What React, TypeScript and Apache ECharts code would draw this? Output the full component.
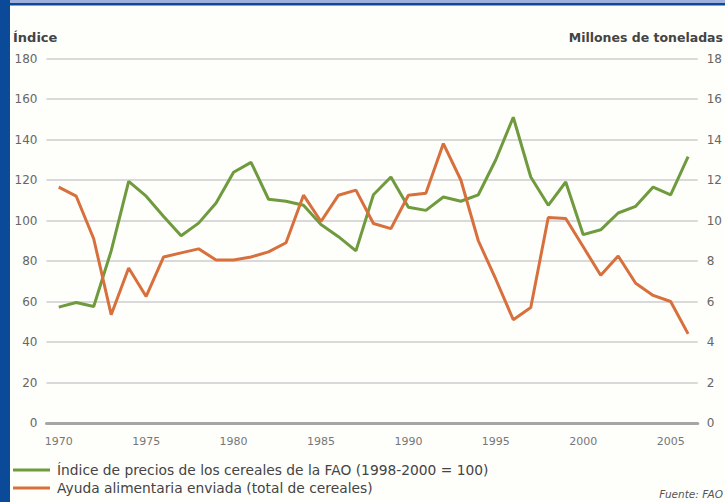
import React, { useEffect, useRef } from "react";
import * as echarts from "echarts";

const years: number[] = [];
for (let y = 1970; y <= 2006; y++) years.push(y);

const priceIndex = [
  57.2, 59.5, 57.5, 85, 119.3, 112, 102, 92.5, 98.7, 108.6,
  123.8, 128.7, 110.5, 109.5, 107.5, 98, 92, 85, 112.7, 121.5,
  106.5, 105, 111.6, 109.5, 112.7, 130, 151, 121.5, 107.5, 119,
  93, 95.4, 103.7, 107, 116.5, 112.7, 131.5,
];

const foodAid = [
  11.65, 11.2, 9.1, 5.35, 7.65, 6.25, 8.2, 8.4, 8.6, 8.05,
  8.05, 8.2, 8.45, 8.9, 11.25, 9.95, 11.25, 11.5, 9.85, 9.6,
  11.25, 11.35, 13.8, 12.0, 9.0, 7.1, 5.1, 5.7, 10.15, 10.1,
  8.7, 7.3, 8.25, 6.9, 6.3, 6.0, 4.4,
];

const xTickLabels = [1970, 1975, 1980, 1985, 1990, 1995, 2000, 2005];

const seriesNames = [
  "Índice de precios de los cereales de la FAO (1998-2000 = 100)",
  "Ayuda alimentaria enviada (total de cereales)",
];

const leftAxisName = "Índice";
const rightAxisName = "Millones de toneladas";
const sourceText = "Fuente: FAO";

const GREEN = "#6f9a3d";
const ORANGE = "#d7703d";
const FONT = "'DejaVu Sans', 'Liberation Sans', sans-serif";

export default function App() {
  const ref = useRef<HTMLDivElement>(null);

  useEffect(() => {
    if (!ref.current) return;
    const chart = echarts.init(ref.current, null, { renderer: "svg" });
    chart.setOption({
      animation: false,
      backgroundColor: "#fefefb",
      textStyle: { fontFamily: FONT },
      grid: { left: 46.5, right: 23.5, top: 58.5, bottom: 79, containLabel: false },
      legend: {
        orient: "vertical",
        left: 13,
        top: 463,
        icon: "rect",
        itemWidth: 37,
        itemHeight: 3,
        itemGap: 4,
        padding: 0,
        selectedMode: false,
        textStyle: { fontFamily: FONT, fontSize: 13.8, color: "#444", padding: [0, 0, 0, 2] },
        data: seriesNames,
      },
      xAxis: {
        type: "value",
        min: 1969.3,
        max: 2006.55,
        axisLine: { show: true, lineStyle: { color: "#a6a6a6", width: 3 } },
        axisTick: { show: false },
        splitLine: { show: false },
        axisLabel: {
          customValues: xTickLabels,
          formatter: (v: number) => String(v),
          color: "#777",
          fontSize: 11,
          margin: 13,
          fontFamily: FONT,
        },
      },
      yAxis: [
        {
          type: "value",
          min: 0,
          max: 180,
          interval: 20,
          axisLine: { show: false },
          axisTick: { show: false },
          splitLine: { show: true, lineStyle: { color: "#d9d9d9", width: 2 } },
          axisLabel: { color: "#666", fontSize: 12, margin: 9, fontFamily: FONT },
        },
        {
          type: "value",
          min: 0,
          max: 18,
          interval: 2,
          axisLine: { show: false },
          axisTick: { show: false },
          splitLine: { show: false },
          axisLabel: { color: "#666", fontSize: 12, margin: 9, fontFamily: FONT },
        },
      ],
      series: [
        {
          name: seriesNames[0],
          type: "line",
          yAxisIndex: 0,
          showSymbol: false,
          symbol: "none",
          lineStyle: { color: GREEN, width: 3 },
          itemStyle: { color: GREEN },
          data: years.map((y, i) => [y, priceIndex[i]]),
          z: 3,
        },
        {
          name: seriesNames[1],
          type: "line",
          yAxisIndex: 1,
          showSymbol: false,
          symbol: "none",
          lineStyle: { color: ORANGE, width: 3 },
          itemStyle: { color: ORANGE },
          data: years.map((y, i) => [y, foodAid[i]]),
          z: 4,
        },
      ],
      graphic: [
        { type: "rect", left: 0, top: 0, shape: { width: 725, height: 3 }, style: { fill: "#9db0de" }, z: 10 },
        { type: "rect", left: 0, top: 3, shape: { width: 725, height: 2.5 }, style: { fill: "#0d4a96" }, z: 10 },
        { type: "rect", left: 0, top: 0, shape: { width: 10, height: 502 }, style: { fill: "#0b4a98" }, z: 11 },
        {
          type: "text",
          left: 13,
          top: 31,
          style: { text: leftAxisName, font: `bold 13px ${FONT}`, fill: "#444" },
        },
        {
          type: "text",
          right: 2,
          top: 31,
          style: { text: rightAxisName, font: `bold 12.5px ${FONT}`, fill: "#444" },
        },
        {
          type: "text",
          right: 2,
          top: 488,
          style: { text: sourceText, font: `italic 10.5px ${FONT}`, fill: "#555" },
        },
      ],
    });
    return () => chart.dispose();
  }, []);

  return (
    <div
      ref={ref}
      style={{ position: "absolute", left: 0, top: 0, width: 725, height: 502 }}
    />
  );
}
